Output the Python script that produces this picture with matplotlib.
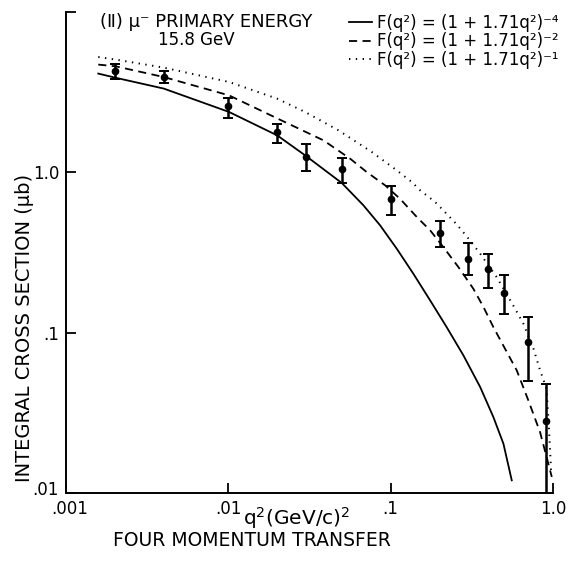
import matplotlib
matplotlib.use("Agg")
import matplotlib.pyplot as plt
import matplotlib.transforms as mtransforms
from matplotlib.ticker import FixedLocator, FixedFormatter, NullLocator

plt.rcParams['font.family'] = ['DejaVu Sans']
plt.rcParams['mathtext.default'] = 'regular'

# ---- data ----
q2 = [0.002, 0.004, 0.01, 0.02, 0.03, 0.05, 0.1, 0.2, 0.3, 0.4, 0.5, 0.7, 0.9]
sigma = [4.27, 3.93, 2.58, 1.78, 1.25, 1.044, 0.68, 0.42, 0.29, 0.25, 0.178, 0.087, 0.028]
sigma_hi = [4.76, 4.29, 2.91, 1.99, 1.50, 1.235, 0.82, 0.50, 0.36, 0.31, 0.23, 0.126, 0.048]
sigma_lo = [3.84, 3.61, 2.19, 1.52, 1.02, 0.858, 0.54, 0.34, 0.23, 0.19, 0.131, 0.050, 0.009]

curve4_x = [0.00158, 0.00202, 0.0040, 0.0101, 0.020, 0.0297, 0.050, 0.0679, 0.0861,
            0.109, 0.138, 0.175, 0.2216, 0.2805, 0.356, 0.429, 0.495, 0.557]
curve4_y = [4.13, 3.89, 3.33, 2.38, 1.70, 1.277, 0.858, 0.623, 0.467,
            0.334, 0.233, 0.159, 0.108, 0.0722, 0.0458, 0.0298, 0.0203, 0.0120]

curve2_x = [0.00158, 0.00203, 0.0040, 0.0101, 0.020, 0.0385, 0.0562, 0.0712, 0.0924,
            0.114, 0.145, 0.175, 0.211, 0.261, 0.323, 0.373, 0.429, 0.507, 0.598,
            0.705, 0.833, 0.983]
curve2_y = [4.70, 4.58, 3.93, 3.02, 2.17, 1.584, 1.218, 1.004, 0.830,
            0.685, 0.526, 0.435, 0.342, 0.257, 0.188, 0.1445, 0.1084, 0.0792, 0.0582,
            0.0378, 0.0239, 0.0126]

curve1_x = [0.00158, 0.00202, 0.0040, 0.0101, 0.020, 0.0297, 0.0476, 0.0765, 0.109,
            0.135, 0.152, 0.188, 0.216, 0.255, 0.294, 0.356, 0.450, 0.557, 0.657,
            0.757, 0.833, 0.913, 0.946, 0.973]
curve1_y = [5.24, 5.05, 4.50, 3.66, 2.88, 2.38, 1.83, 1.339, 1.029,
            0.870, 0.772, 0.653, 0.565, 0.474, 0.399, 0.311, 0.222, 0.1535, 0.1138,
            0.0798, 0.0582, 0.0447, 0.0246, 0.0138]

labels = ['F(q²) = (1 + 1.71q²)⁻⁴',
          'F(q²) = (1 + 1.71q²)⁻²',
          'F(q²) = (1 + 1.71q²)⁻¹']

x_ticks = [0.001, 0.01, 0.1, 1.0]
x_ticklabels = ['.001', '.01', '.1', '1.0']
y_ticks = [0.01, 0.1, 1.0, 10.0]
y_ticklabels = ['.01', '.1', '1.0', '']

W, H = 570, 563
fig = plt.figure(figsize=(W / 100, H / 100), dpi=100)
ax = fig.add_axes([66 / W, (H - 493) / H, (553 - 66) / W, (493 - 12) / H])

ax.set_xscale('log')
ax.set_yscale('log')
ax.set_xlim(0.001, 1.0)
ax.set_ylim(0.01, 10.0)

l4, = ax.plot(curve4_x, curve4_y, color='black', lw=1.3, ls='-')
l2, = ax.plot(curve2_x, curve2_y, color='black', lw=1.3, ls=(0, (4.5, 3.0)))
l1, = ax.plot(curve1_x, curve1_y, color='black', lw=1.4, ls=(0, (0.7, 2.8)))

yerr = [[s - lo for s, lo in zip(sigma, sigma_lo)],
        [hi - s for s, hi in zip(sigma, sigma_hi)]]
ax.errorbar(q2, sigma, yerr=yerr, fmt='o', color='black', ms=4.5,
            elinewidth=1.8, capsize=3.5, capthick=1.4)

for side in ('top', 'right'):
    ax.spines[side].set_visible(False)
for side in ('left', 'bottom'):
    ax.spines[side].set_linewidth(1.4)

ax.xaxis.set_major_locator(FixedLocator(x_ticks))
ax.xaxis.set_major_formatter(FixedFormatter(x_ticklabels))
ax.xaxis.set_minor_locator(NullLocator())
ax.yaxis.set_major_locator(FixedLocator(y_ticks))
ax.yaxis.set_major_formatter(FixedFormatter(y_ticklabels))
ax.yaxis.set_minor_locator(NullLocator())
ax.tick_params(axis='both', which='major', direction='in', length=7, width=1.3,
               labelsize=12, pad=5)
ax.tick_params(axis='y', pad=5)

# small offsets of the corner tick labels, as in the reference
fig.canvas.draw()
xl0 = ax.xaxis.get_major_ticks()[0].label1
xl0.set_transform(xl0.get_transform() +
                  mtransforms.ScaledTranslation(0.04, 0, fig.dpi_scale_trans))
yl0 = ax.yaxis.get_major_ticks()[0].label1
yl0.set_transform(yl0.get_transform() +
                  mtransforms.ScaledTranslation(0, 0.05, fig.dpi_scale_trans))

leg = ax.legend([l4, l2, l1], labels, loc='upper left',
                bbox_to_anchor=(349 / W, 1 - 14 / H), bbox_transform=fig.transFigure,
                frameon=False, fontsize=12, handlelength=1.4, handletextpad=0.3,
                labelspacing=0.02, borderpad=0, borderaxespad=0)

fig.text(100 / W, 1 - 22 / H, '(Ⅱ) μ⁻ PRIMARY ENERGY', fontsize=13,
         ha='left', va='center')
fig.text(196 / W, 1 - 40 / H, '15.8 GeV', fontsize=12, ha='center', va='center')

fig.text(25 / W, 1 - 328 / H, 'INTEGRAL CROSS SECTION (μb)', fontsize=14,
         rotation=90, ha='center', va='center')
fig.text(297 / W, 1 - 518 / H, r'q$^2$(GeV/c)$^2$', fontsize=14.5, ha='center', va='center')
fig.text(252 / W, 1 - 540 / H, 'FOUR MOMENTUM TRANSFER', fontsize=13.5,
         ha='center', va='center')

fig.savefig('out.png', dpi=100)
